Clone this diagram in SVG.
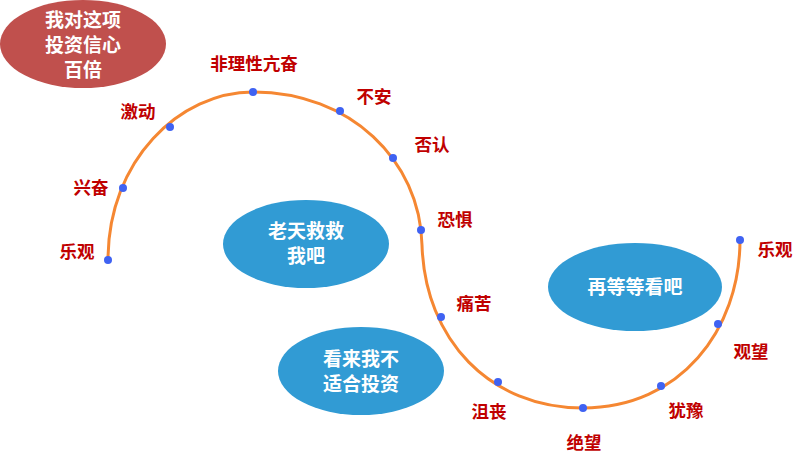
<svg xmlns="http://www.w3.org/2000/svg" width="803" height="461" viewBox="0 0 803 461">
<style>
.lbl{font-family:"Noto Sans CJK SC","Noto Sans CJK TC",sans-serif;font-size:17.5px;font-weight:bold;fill:#c00000;text-anchor:middle}
.bt{font-family:"Noto Sans CJK SC","Noto Sans CJK TC",sans-serif;font-size:19px;font-weight:bold;fill:#ffffff;text-anchor:middle}
.blue{fill:#319bd4}
.dot{fill:#3f62f2}
</style>
<rect width="803" height="461" fill="#ffffff"/>
<g id="connectors">
<path d="M108,260 C108,160 180,92 253,92 C350,92 420,160 422,245 C425,340 490,408 583,408 C680,408 740,330 740,240" fill="none" stroke="#f58732" stroke-width="3"/>
</g>
<g id="node-confidence">
<ellipse cx="83" cy="44" rx="83" ry="44" fill="#c0504d"/>
<text class="bt" x="83" y="27">我对这项</text>
<text class="bt" x="83" y="52">投资信心</text>
<text class="bt" x="83" y="77">百倍</text>
</g>
<g id="node-heaven">
<ellipse class="blue" cx="306" cy="244" rx="83" ry="44"/>
<text class="bt" x="306" y="238">老天救救</text>
<text class="bt" x="306" y="263">我吧</text>
</g>
<g id="node-notsuited">
<ellipse class="blue" cx="361" cy="371" rx="83" ry="44"/>
<text class="bt" x="361" y="366">看来我不</text>
<text class="bt" x="361" y="391">适合投资</text>
</g>
<g id="node-wait">
<ellipse class="blue" cx="635" cy="287" rx="87" ry="44"/>
<text class="bt" x="635" y="294">再等等看吧</text>
</g>
<g id="points">
<circle class="dot" cx="108" cy="260" r="4"/>
<circle class="dot" cx="123" cy="188" r="4"/>
<circle class="dot" cx="170" cy="127" r="4"/>
<circle class="dot" cx="253" cy="92" r="4"/>
<circle class="dot" cx="340" cy="111" r="4"/>
<circle class="dot" cx="393" cy="158" r="4"/>
<circle class="dot" cx="421" cy="230" r="4"/>
<circle class="dot" cx="441" cy="317" r="4"/>
<circle class="dot" cx="498" cy="382" r="4"/>
<circle class="dot" cx="583" cy="408" r="4"/>
<circle class="dot" cx="661" cy="386" r="4"/>
<circle class="dot" cx="718" cy="324" r="4"/>
<circle class="dot" cx="740" cy="240" r="4"/>
</g>
<g id="labels">
<text class="lbl" x="77" y="258">乐观</text>
<text class="lbl" x="91" y="194">兴奋</text>
<text class="lbl" x="138" y="118">激动</text>
<text class="lbl" x="254" y="70">非理性亢奋</text>
<text class="lbl" x="374" y="103">不安</text>
<text class="lbl" x="432" y="151">否认</text>
<text class="lbl" x="455" y="226">恐惧</text>
<text class="lbl" x="474" y="310">痛苦</text>
<text class="lbl" x="489" y="418">沮丧</text>
<text class="lbl" x="584" y="449">绝望</text>
<text class="lbl" x="686" y="417">犹豫</text>
<text class="lbl" x="751" y="358">观望</text>
<text class="lbl" x="775" y="256">乐观</text>
</g>
</svg>
